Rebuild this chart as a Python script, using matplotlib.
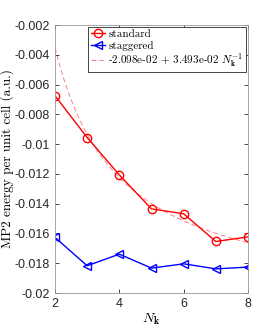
import numpy as np
import matplotlib
matplotlib.use("Agg")
import matplotlib.pyplot as plt

plt.rcParams["mathtext.fontset"] = "cm"
plt.rcParams["axes.unicode_minus"] = False

nk = [2, 3, 4, 5, 6, 7, 8]
e_standard = [-0.00675, -0.00956, -0.01207, -0.01435, -0.01468, -0.01654, -0.01623]
e_staggered = [-0.01627, -0.01817, -0.01739, -0.01833, -0.01804, -0.01838, -0.01826]
fit_a = -2.098e-02
fit_b = 3.493e-02

yticks = [-0.02, -0.018, -0.016, -0.014, -0.012, -0.01, -0.008, -0.006, -0.004, -0.002]
ytick_labels = ["-0.02", "-0.018", "-0.016", "-0.014", "-0.012", "-0.01",
                "-0.008", "-0.006", "-0.004", "-0.002"]

serif = "cmr10"
axcol = "0.15"

fig = plt.figure(figsize=(2.74, 3.29), dpi=100)
ax = fig.add_axes([55 / 274, 1 - 293 / 329, 193 / 274, 268 / 329])

ax.plot(nk, e_standard, color="r", marker="o", markersize=6, mfc="none",
        lw=1.0, mew=1.0, label="standard")
ax.plot(nk, e_staggered, color="b", marker="<", markersize=6, mfc="none",
        lw=1.0, mew=1.0, label="staggered")
xf = np.linspace(2, 8, 200)
ax.plot(xf, fit_a + fit_b / xf, color="r", ls=(0, (5, 3)), lw=0.7, alpha=0.5,
        label="-2.098e-02 + 3.493e-02 $N_{\\mathbf{k}}^{-1}$")

ax.set_xlim(2, 8)
ax.set_ylim(-0.02, -0.002)
ax.set_xticks([2, 4, 6, 8])
ax.set_yticks(yticks)
ax.set_yticklabels(ytick_labels)
ax.tick_params(direction="in", top=True, right=True, length=3, width=0.6,
               colors=axcol, labelsize=9)
for lab in ax.get_xticklabels() + ax.get_yticklabels():
    lab.set_family("Liberation Sans")
    lab.set_color(axcol)
for s in ax.spines.values():
    s.set_color("0.6")
    s.set_linewidth(0.6)

ax.set_xlabel("$N_{\\mathbf{k}}$", fontsize=10, labelpad=1)
ax.set_ylabel("MP2 energy per unit cell (a.u.)", family=serif, fontsize=9.5)
ax.yaxis.set_label_coords(-0.21, 0.5)

leg = ax.legend(loc="upper right", prop={"family": serif, "size": 8},
                handlelength=1.3, handletextpad=0.3, borderpad=0.2,
                labelspacing=0.12, fancybox=False, framealpha=1,
                borderaxespad=0.2, bbox_to_anchor=(1.0, 1.0))
leg.get_frame().set_edgecolor("0.15")
leg.get_frame().set_linewidth(0.6)

fig.savefig("out.png", dpi=100)
